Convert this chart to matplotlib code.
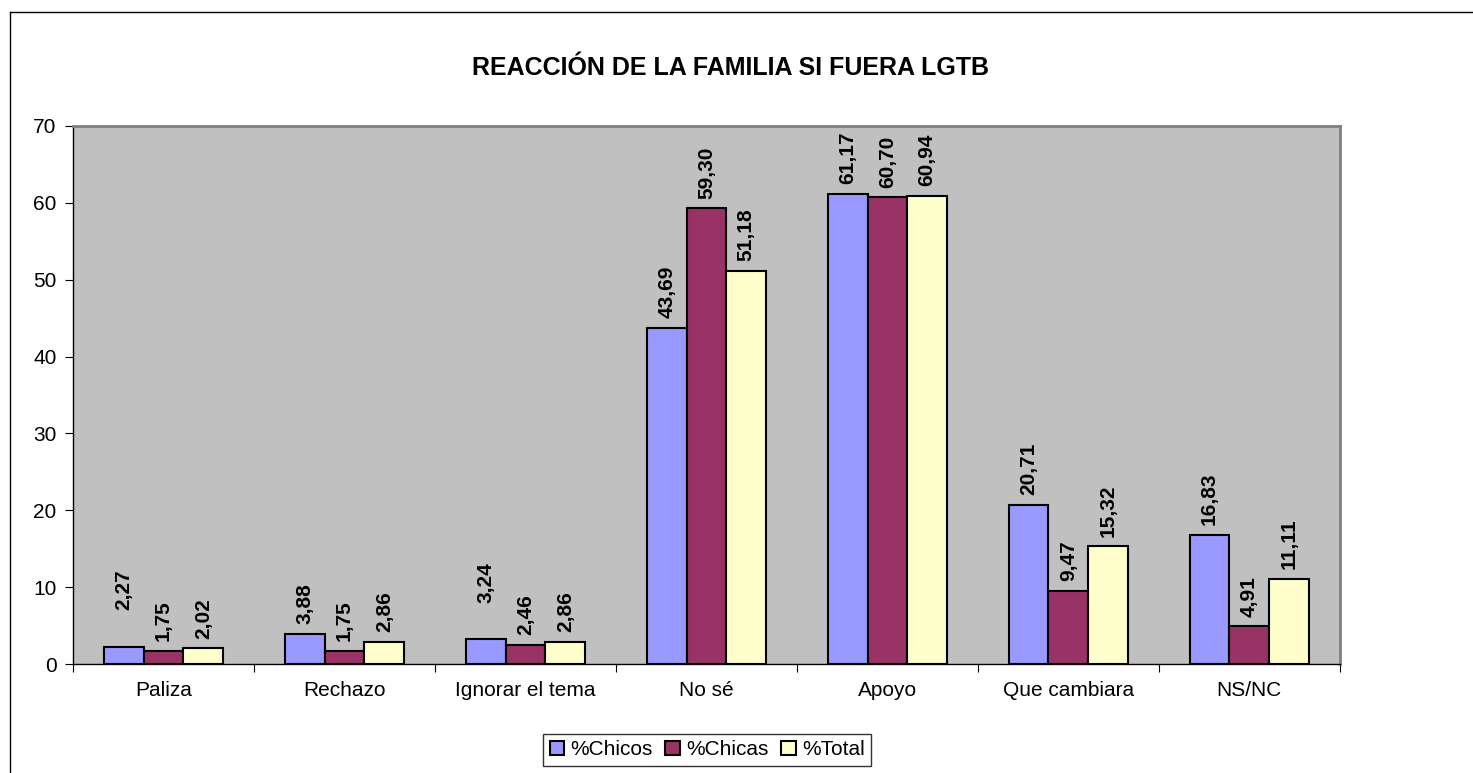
import numpy as np
import matplotlib.pyplot as plt
from matplotlib.lines import Line2D

categories = ["Paliza", "Rechazo", "Ignorar el tema", "No sé", "Apoyo",
              "Que cambiara", "NS/NC"]
chicos = [2.27, 3.88, 3.24, 43.69, 61.17, 20.71, 16.83]
chicas = [1.75, 1.75, 2.46, 59.30, 60.70, 9.47, 4.91]
total = [2.02, 2.86, 2.86, 51.18, 60.94, 15.32, 11.11]
series_names = ["%Chicos", "%Chicas", "%Total"]
colors = ["#9999ff", "#993366", "#ffffcc"]

# a couple of labels sit higher in the original (series index, category index)
raised_labels = {(0, 0), (0, 2)}

plt.rcParams["font.family"] = ["Liberation Sans", "DejaVu Sans"]

fig = plt.figure(figsize=(14.73, 7.73), dpi=100)
ax = fig.add_axes([0.0496, 0.141, 0.860, 0.696])

# outer chart frame (only left and top visible in the reference)
fig.add_artist(Line2D([10 / 1473, 10 / 1473], [0, 1 - 12 / 773],
                      transform=fig.transFigure, color="black", lw=1))
fig.add_artist(Line2D([10 / 1473, 1], [1 - 12 / 773, 1 - 12 / 773],
                      transform=fig.transFigure, color="black", lw=1))

x = np.arange(len(categories))
width = 0.22
for i, (vals, name, col) in enumerate(zip([chicos, chicas, total], series_names, colors)):
    pos = x + (i - 1) * width
    ax.bar(pos, vals, width, color=col, edgecolor="black", linewidth=1.5,
           label=name, zorder=3)
    for j, (p, v) in enumerate(zip(pos, vals)):
        dy = 26 if (i, j) in raised_labels else 7
        ax.annotate(f"{v:.2f}".replace(".", ","), (p, v), xytext=(0, dy),
                    textcoords="offset points", rotation=90, ha="center",
                    va="bottom", fontsize=15, fontweight="bold")

ax.set_facecolor("#c0c0c0")
ax.set_xlim(-0.5, len(categories) - 0.5)
ax.set_ylim(0, 70)
ax.set_yticks(range(0, 71, 10))
ax.set_xticks(np.arange(-0.5, len(categories), 1))
ax.set_xticklabels([])
ax.set_xticks(x, minor=True)
ax.set_xticklabels(categories, minor=True)
ax.tick_params(axis="x", which="minor", length=0, pad=12, labelsize=15)
ax.tick_params(axis="x", which="major", length=6, direction="out")
ax.tick_params(axis="y", length=6, direction="out", labelsize=15, pad=6)

for side in ["top", "right"]:
    ax.spines[side].set_color("#808080")
    ax.spines[side].set_linewidth(2)
ax.spines["left"].set_linewidth(1)
ax.spines["bottom"].set_linewidth(1)

fig.text(0.496, 0.912, "REACCIÓN DE LA FAMILIA SI FUERA LGTB", ha="center",
         va="center", fontsize=18, fontweight="bold")

leg = fig.legend(loc="center", bbox_to_anchor=(0.48, 0.03), ncol=3,
                 fontsize=15, frameon=True, fancybox=False, handlelength=0.7,
                 handleheight=0.7, handletextpad=0.3, columnspacing=0.6,
                 borderpad=0.3)
leg.get_frame().set_edgecolor("black")
leg.get_frame().set_linewidth(1)

fig.savefig("out.png", dpi=100, facecolor="white")
